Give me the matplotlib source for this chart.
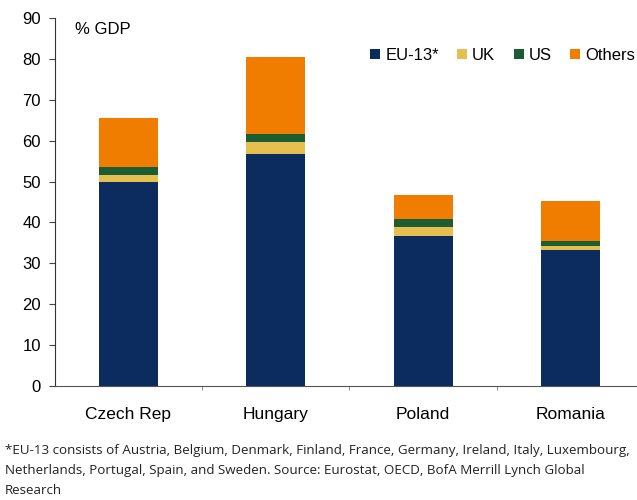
import matplotlib.pyplot as plt
import numpy as np

plt.rcParams['font.family'] = ['Liberation Sans', 'DejaVu Sans']

countries = ["Czech Rep", "Hungary", "Poland", "Romania"]
series = ["EU-13*", "UK", "US", "Others"]
eu13 = [50.0, 56.8, 36.6, 33.3]
uk = [1.5, 2.9, 2.2, 1.0]
us = [2.1, 1.9, 2.1, 1.1]
others = [12.0, 18.8, 5.9, 9.8]
colors = ["#0c2b5e", "#e6c04e", "#1d5d33", "#f07c00"]

footnote = ("*EU-13 consists of Austria, Belgium, Denmark, Finland, France, Germany, Ireland, Italy, Luxembourg,\n"
            "Netherlands, Portugal, Spain, and Sweden. Source: Eurostat, OECD, BofA Merrill Lynch Global\n"
            "Research")

fig = plt.figure(figsize=(6.37, 5.0), dpi=100)
ax = fig.add_axes([0.086, 0.228, 0.925, 0.736])

x = np.arange(len(countries))
bottom = np.zeros(len(countries))
for name, vals, c in zip(series, [eu13, uk, us, others], colors):
    ax.bar(x, vals, width=0.4, bottom=bottom, color=c, label=name)
    bottom += np.array(vals)

ax.set_xlim(-0.5, 3.5)
ax.set_ylim(0, 90)
ax.set_yticks(range(0, 91, 10))
ax.tick_params(axis='y', labelsize=12, length=4, color='#444444', pad=6)
ax.set_xticks(x)
ax.set_xticklabels(countries, fontsize=12.5)
ax.tick_params(axis='x', length=0, pad=15)
ax.set_xticks([0.5, 1.5, 2.5], minor=True)
ax.tick_params(axis='x', which='minor', length=3, color='#777777')
for s in ['top', 'right']:
    ax.spines[s].set_visible(False)
ax.spines['left'].set_color('#333333')
ax.spines['bottom'].set_color('#555555')

ax.text(0.035, 0.99, "% GDP", transform=ax.transAxes, fontsize=12, va='top')

ax.legend(loc='upper right', bbox_to_anchor=(1.01, 0.96), ncol=4, frameon=False,
          fontsize=12, handlelength=0.6, handleheight=0.6, handletextpad=0.3,
          columnspacing=1.1)

fig.text(0.008, 0.006, footnote, fontsize=9.6, family=['Open Sans', 'DejaVu Sans'],
         va='bottom', linespacing=1.72, color='#222222')

fig.savefig("out.png", dpi=100)
